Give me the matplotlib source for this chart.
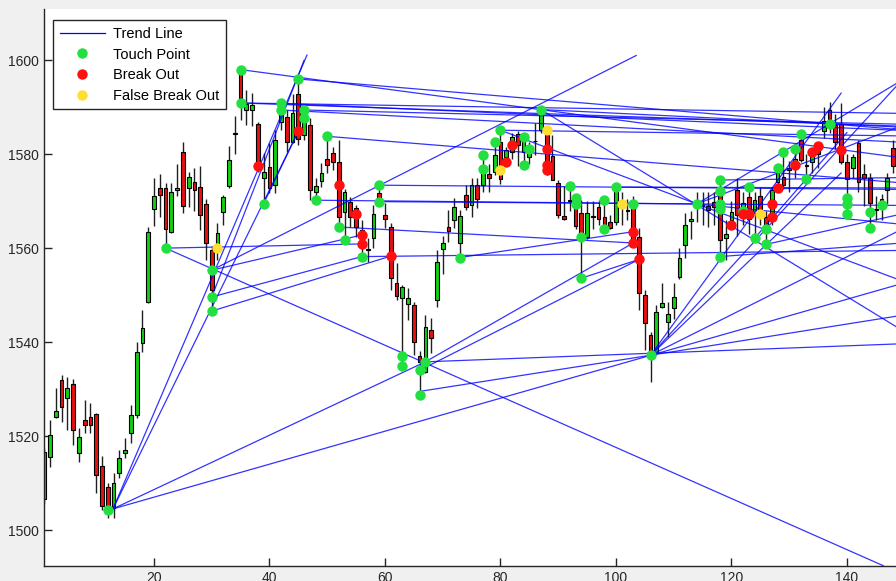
import matplotlib
matplotlib.use("Agg")
import matplotlib.pyplot as plt
from matplotlib.lines import Line2D
import numpy as np

plt.rcParams['font.family'] = ['Liberation Sans', 'DejaVu Sans']

# ---------------- candle data (index 1..148) ----------------
opens = [1506.6,1515.6,1524.1,1531.9,1528.0,1531.1,1516.4,1523.4,1524.1,1524.7,
         1513.6,1509.2,1504.7,1512.1,1516.4,1520.6,1524.5,1539.8,1548.6,1568.4,
         1572.8,1572.8,1563.5,1572.3,1580.5,1572.7,1574.0,1573.0,1569.4,1559.6,
         1559.6,1567.7,1573.2,1584.5,1597.2,1589.4,1589.4,1586.4,1575.0,1577.2,
         1573.4,1586.9,1588.0,1582.6,1592.9,1584.0,1586.3,1572.0,1574.3,1578.9,
         1580.3,1578.4,1567.7,1569.9,1568.5,1563.8,1559.8,1562.1,1571.7,1567.0,
         1564.5,1552.6,1549.3,1548.1,1547.9,1537.0,1533.7,1542.6,1548.9,1559.9,
         1564.5,1566.0,1561.0,1571.4,1569.1,1573.5,1573.4,1575.7,1576.2,1582.6,
         1579.4,1580.5,1584.4,1580.5,1579.5,1582.9,1585.1,1584.0,1579.6,1573.8,
         1566.8,1570.3,1569.1,1567.4,1562.4,1566.8,1568.7,1566.7,1565.6,1565.6,
         1569.6,1568.2,1570.2,1562.4,1550.0,1541.5,1537.6,1547.5,1544.3,1547.2,
         1553.8,1560.6,1565.7,1569.3,1569.2,1568.9,1569.9,1571.3,1562.1,1566.0,
         1572.3,1567.7,1570.9,1567.4,1571.1,1566.7,1566.0,1574.0,1575.2,1577.0,
         1578.0,1583.0,1577.7,1578.4,1582.0,1585.0,1589.5,1586.2,1586.5,1578.4,
         1577.0,1582.3,1575.7,1575.0,1568.3,1570.4,1572.3,1581.4]
highs = [1517.5,1523.4,1530.2,1533.0,1532.6,1532.1,1521.7,1527.7,1527.0,1524.9,
         1515.7,1510.0,1512.1,1517.0,1519.6,1526.6,1540.1,1546.8,1564.5,1574.9,
         1575.7,1573.8,1573.9,1578.0,1582.5,1576.2,1577.0,1577.4,1570.5,1560.5,
         1565.3,1571.3,1581.7,1588.1,1598.5,1593.6,1593.0,1586.9,1580.2,1582.3,
         1585.1,1591.5,1589.4,1592.9,1596.0,1590.0,1587.7,1575.0,1578.1,1583.8,
         1581.6,1583.0,1572.5,1570.9,1569.1,1566.0,1562.1,1569.1,1573.4,1569.6,
         1565.3,1556.8,1552.1,1551.5,1548.6,1538.0,1545.7,1545.1,1559.6,1562.6,
         1568.1,1570.6,1568.1,1573.4,1574.9,1575.0,1580.0,1578.0,1582.6,1585.1,
         1581.5,1584.5,1585.0,1583.7,1582.5,1586.6,1589.5,1586.0,1584.0,1574.5,
         1573.2,1573.0,1570.6,1570.2,1570.0,1570.0,1570.2,1570.2,1567.0,1573.0,
         1572.0,1570.5,1571.0,1564.3,1551.0,1542.2,1548.0,1552.6,1548.6,1552.5,
         1560.0,1567.4,1568.0,1572.0,1572.0,1572.0,1572.0,1574.5,1566.0,1570.0,
         1574.9,1572.0,1573.0,1572.0,1573.0,1568.0,1573.0,1577.1,1580.5,1578.5,
         1581.0,1584.2,1580.0,1581.0,1582.0,1590.0,1591.1,1588.5,1591.0,1580.0,
         1580.0,1583.0,1578.0,1576.0,1571.0,1571.5,1576.0,1583.0]
lows = [1505.5,1513.5,1523.8,1523.0,1521.3,1518.1,1514.5,1520.6,1520.6,1507.9,
        1504.3,1502.6,1502.6,1511.0,1515.3,1518.5,1523.8,1537.9,1548.3,1564.7,
        1566.7,1560.0,1563.2,1571.0,1567.4,1568.8,1568.0,1563.8,1557.4,1546.6,
        1557.4,1564.9,1572.7,1580.1,1587.2,1586.2,1586.0,1576.2,1569.5,1571.7,
        1571.7,1585.1,1580.5,1582.3,1582.0,1583.0,1570.2,1570.2,1573.0,1575.9,
        1576.6,1564.5,1561.8,1564.5,1562.4,1558.2,1557.0,1560.0,1569.9,1564.3,
        1551.0,1548.9,1535.0,1544.7,1537.2,1528.7,1533.4,1537.7,1547.5,1554.6,
        1561.3,1564.3,1558.0,1568.1,1566.7,1568.5,1572.0,1572.0,1575.5,1573.7,
        1578.0,1579.0,1577.5,1577.7,1578.0,1579.8,1584.5,1575.5,1574.5,1566.5,
        1566.0,1568.0,1564.0,1553.6,1562.0,1564.0,1565.0,1564.0,1564.0,1565.0,
        1565.0,1566.0,1561.0,1546.8,1538.3,1531.6,1537.2,1547.2,1541.1,1545.0,
        1553.5,1557.9,1562.0,1565.5,1565.0,1564.5,1565.0,1558.2,1557.5,1564.5,
        1562.5,1565.0,1563.0,1562.1,1565.0,1560.8,1565.0,1572.5,1572.5,1572.0,
        1575.0,1578.3,1574.8,1576.0,1577.0,1583.5,1584.5,1581.0,1578.0,1567.2,
        1575.0,1572.0,1569.0,1564.2,1566.0,1566.0,1569.5,1576.0]
closes = [1516.7,1520.2,1525.3,1526.2,1530.3,1521.3,1519.8,1522.3,1522.3,1511.7,
          1505.1,1504.3,1510.0,1515.3,1517.0,1524.5,1537.9,1543.0,1563.5,1571.1,
          1571.3,1564.0,1572.0,1572.8,1568.9,1575.2,1572.3,1567.0,1561.0,1551.0,
          1563.2,1570.9,1578.7,1584.2,1591.9,1590.6,1590.4,1577.3,1576.2,1572.7,
          1583.0,1589.4,1582.6,1588.8,1583.3,1589.0,1572.3,1573.2,1575.9,1577.7,
          1578.4,1566.7,1572.0,1566.7,1564.5,1560.3,1559.5,1567.2,1570.6,1566.1,
          1553.6,1549.8,1551.8,1549.3,1540.1,1535.8,1543.3,1540.8,1557.1,1561.1,
          1563.6,1568.7,1566.8,1568.7,1573.4,1570.4,1576.6,1575.0,1579.8,1574.8,
          1580.9,1583.7,1581.9,1583.0,1581.0,1582.7,1589.0,1576.2,1574.6,1567.0,
          1566.1,1570.1,1564.7,1562.4,1567.4,1566.6,1566.3,1564.9,1564.2,1573.0,
          1569.4,1568.0,1561.7,1550.4,1544.0,1537.9,1546.4,1548.4,1546.0,1549.6,
          1557.8,1564.9,1566.3,1569.5,1569.0,1568.2,1568.8,1561.7,1563.0,1567.7,
          1567.0,1569.6,1566.3,1570.2,1566.7,1564.9,1572.3,1576.8,1573.4,1576.6,
          1579.0,1578.7,1577.5,1579.8,1580.0,1587.0,1587.4,1582.6,1578.4,1574.8,
          1579.4,1574.1,1575.0,1569.6,1568.1,1569.5,1575.0,1577.4]

# ---------------- trend lines (x1, y1) -> (x2, y2) ----------------
line_x1 = [12.9,12.9,12.9,12.9,30,39,22,22,30,30,30,30,
           35,35,35,42,42,45,46,50,59,59,48,52,56,73,67,66,67,66,94,
           106,106,106,106,106,114,87,80,114,114,100,118,124,80,87,118,126]
line_y1 = [1504.5,1504.5,1504.5,1504.5,1549.6,1569.5,1560.0,1560.0,1555.3,1555.3,1549.6,1546.6,
           1598.0,1590.9,1590.9,1590.8,1589.4,1596.0,1589.4,1583.8,1573.4,1569.9,1570.2,1564.5,1558.2,1558.0,1535.8,1534.0,1535.8,1529.5,1553.6,
           1537.2,1537.2,1537.2,1537.2,1537.2,1569.4,1589.5,1585.1,1569.4,1569.4,1573.0,1574.5,1562.1,1585.1,1589.5,1558.2,1560.8]
line_x2 = [46.5,45,67,148.5,46,45,146.3,56,56,103.5,56,61,
           148.5,148.5,148.5,148.5,148.5,148.5,148.5,148.5,148.5,148.5,114,103,148.5,103,103,104,148.5,106,104,
           148.5,139,139,148.5,148.5,148.5,148.5,148.5,148.5,148.5,148.5,148.5,140,148.5,148.5,148.5,148.5]
line_y2 = [1601.1,1584.9,1535.8,1552.1,1600.0,1584.9,1492.4,1560.9,1562.8,1601.0,1558.2,1558.3,
           1579.4,1588.7,1586.0,1585.1,1582.6,1585.3,1586.4,1574.0,1572.5,1569.1,1569.4,1561.1,1559.5,1563.5,1561.1,1557.6,1539.6,1537.2,1557.6,
           1594.4,1593.0,1576.0,1545.5,1563.4,1565.2,1543.3,1553.5,1585.6,1595.0,1572.8,1575.0,1584.6,1583.9,1585.8,1561.0,1567.0]

# ---------------- signal points ----------------
touch_x = [12,22,30,30,30,35,35,39,42,42,45,46,46,48,50,52,53,56,59,59,63,63,66,66,67,
           73,77,77,79,80,84,84,85,87,92,93,93,94,94,98,98,100,103,106,114,
           118,118,118,118,118,122,123,124,126,126,128,129,131,132,133,137,140,140,140,144,144,146]
touch_y = [1504.3,1560.0,1555.3,1549.6,1546.6,1598.0,1590.9,1569.5,1590.8,1589.4,1595.9,1589.4,1587.7,
           1570.2,1583.8,1564.5,1561.8,1558.2,1573.4,1569.9,1537.0,1535.0,1534.0,1528.7,1535.8,
           1558.0,1576.8,1579.8,1582.5,1585.1,1583.7,1577.7,1581.0,1589.5,1573.2,1570.6,1569.5,1562.4,1553.6,
           1570.2,1564.0,1573.0,1569.4,1537.2,1569.4,1574.5,1572.2,1569.4,1568.3,1558.2,1568.0,1573.0,1562.1,
           1564.0,1560.8,1577.1,1580.5,1581.0,1584.2,1574.8,1586.5,1570.6,1569.4,1567.2,1567.7,1564.2,1569.1]
break_x = [38,45,52,55,56,56,61,81,82,88,88,88,103,103,104,120,122,123,127,127,128,131,134,135,139]
break_y = [1577.4,1584.9,1573.5,1567.2,1562.8,1560.9,1558.3,1578.4,1581.9,1581.2,1577.7,1576.6,
           1563.5,1561.1,1557.6,1564.9,1567.2,1567.2,1569.5,1566.7,1572.9,1577.6,1580.5,1581.7,1580.9]
false_x = [31,80,88,101,125]
false_y = [1560.1,1576.7,1585.2,1569.5,1567.2]

x_ticks = [20, 40, 60, 80, 100, 120, 140]
y_ticks = [1500, 1520, 1540, 1560, 1580, 1600]

# ---------------- drawing ----------------
fig = plt.figure(figsize=(8.96, 5.81), dpi=100, facecolor='#f0f0f0')
ax = fig.add_axes([0.0494, 0.0263, 0.9506, 0.959])
ax.set_facecolor('white')

idx = np.arange(1, len(opens) + 1)
o = np.array(opens); c = np.array(closes)
h = np.array(highs); l = np.array(lows)
up = c >= o
body_bottom = np.minimum(o, c)
body_h = np.maximum(np.abs(c - o), 0.12)
cols = np.where(up, '#12d012', '#e81010')

ax.vlines(idx, l, h, color='#202020', lw=1.0, zorder=1)
ax.bar(idx, body_h, bottom=body_bottom, width=0.65, color=cols,
       edgecolor='black', linewidth=0.8, zorder=2)

for x1, y1, x2, y2 in zip(line_x1, line_y1, line_x2, line_y2):
    ax.plot([x1, x2], [y1, y2], color='#0000ff', lw=0.9, alpha=0.8, zorder=3)

ax.plot(touch_x, touch_y, 'o', color='#22e040', ms=7.5, mec='none', zorder=4)
ax.plot(break_x, break_y, 'o', color='#ff1010', ms=7.5, mec='none', zorder=5)
ax.plot(false_x, false_y, 'o', color='#ffdd33', ms=7.5, mec='none', zorder=6)

ax.set_xlim(1, 148.5)
ax.set_ylim(1492.4, 1611)
ax.set_xticks(x_ticks)
ax.set_yticks(y_ticks)
ax.tick_params(direction='in', length=6, width=1, labelsize=10,
               colors='#262626', top=False, right=False, pad=4)
for s in ['top', 'right']:
    ax.spines[s].set_visible(False)
for s in ['left', 'bottom']:
    ax.spines[s].set_color('#262626')
    ax.spines[s].set_linewidth(1.0)

handles = [
    Line2D([0], [0], color='#0000ff', lw=0.9),
    Line2D([0], [0], marker='o', color='none', markerfacecolor='#22e040', markeredgecolor='none', ms=7.5),
    Line2D([0], [0], marker='o', color='none', markerfacecolor='#ff1010', markeredgecolor='none', ms=7.5),
    Line2D([0], [0], marker='o', color='none', markerfacecolor='#ffdd33', markeredgecolor='none', ms=7.5),
]
labels = ['Trend Line', 'Touch Point', 'Break Out', 'False Break Out']
leg = ax.legend(handles, labels, loc='upper left', bbox_to_anchor=(0.0102, 0.979),
                fontsize=10.5, frameon=True, fancybox=False, framealpha=1,
                edgecolor='#262626', handlelength=3.1, handletextpad=0.55,
                labelspacing=0.46, borderpad=0.45, borderaxespad=0)
leg.get_frame().set_linewidth(1.0)
leg.set_zorder(10)

fig.savefig('out.png', dpi=100, facecolor=fig.get_facecolor())
